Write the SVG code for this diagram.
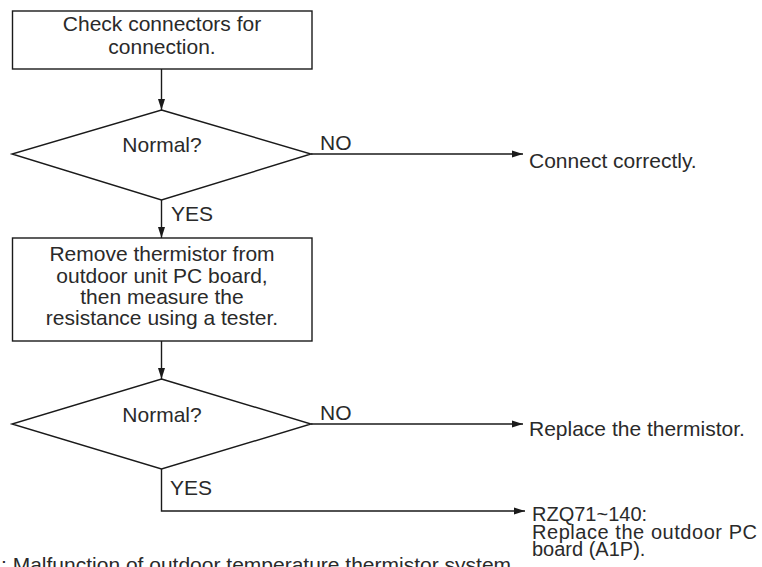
<svg xmlns="http://www.w3.org/2000/svg" width="762" height="567" viewBox="0 0 762 567">
<defs>
<marker id="ah" markerWidth="12" markerHeight="8" refX="11" refY="4" orient="auto" markerUnits="userSpaceOnUse">
<path d="M0,0.5 L11,4 L0,7.5 Z" fill="#1a1a1a"/>
</marker>
<style>
.shape{fill:#fff;stroke:#1a1a1a;stroke-width:1.4}
.conn{fill:none;stroke:#1a1a1a;stroke-width:1.4}
text{font-family:"Liberation Sans",Arial,sans-serif;font-size:21px;fill:#2a2a2a}
.c{text-anchor:middle}
.t{font-size:20px}
</style>
</defs>
<rect width="762" height="567" fill="#fff"/>
<g id="connectors">
<path class="conn" d="M161.5,69 V110" marker-end="url(#ah)"/>
<path class="conn" d="M161.5,200 V238" marker-end="url(#ah)"/>
<path class="conn" d="M311,154 H523" marker-end="url(#ah)"/>
<path class="conn" d="M161.5,341 V379" marker-end="url(#ah)"/>
<path class="conn" d="M311,424 H523" marker-end="url(#ah)"/>
<path class="conn" d="M161.5,469 V511 H525" marker-end="url(#ah)"/>
<text x="320" y="150">NO</text>
<text x="171" y="221">YES</text>
<text x="320" y="420">NO</text>
<text x="170" y="495">YES</text>
</g>
<g id="box1">
<rect class="shape" x="12.5" y="11" width="299.5" height="58"/>
<text class="c" x="162" y="31">Check connectors for</text>
<text class="c" x="162" y="54">connection.</text>
</g>
<g id="dec1">
<polygon class="shape" points="161.5,110 311,154 161.5,200 12,154"/>
<text class="c" x="162" y="152">Normal?</text>
</g>
<g id="out1">
<text x="529" y="168">Connect correctly.</text>
</g>
<g id="box2">
<rect class="shape" x="12.5" y="238" width="299.5" height="103"/>
<text class="c" x="162" y="261">Remove thermistor from</text>
<text class="c" x="162" y="282.5">outdoor unit PC board,</text>
<text class="c" x="162" y="304">then measure the</text>
<text class="c" x="162" y="325">resistance using a tester.</text>
</g>
<g id="dec2">
<polygon class="shape" points="161.5,379 311,424 161.5,469 12,424"/>
<text class="c" x="162" y="422">Normal?</text>
</g>
<g id="out2">
<text x="529" y="436">Replace the thermistor.</text>
</g>
<g id="out3">
<text class="t" x="532" y="521">RZQ71~140:</text>
<text class="t" x="532" y="538.5" textLength="225" lengthAdjust="spacing">Replace the outdoor PC</text>
<text class="t" x="532" y="556">board (A1P).</text>
</g>
<g id="caption">
<text x="1" y="572">: Malfunction of outdoor temperature thermistor system</text>
</g>
</svg>
